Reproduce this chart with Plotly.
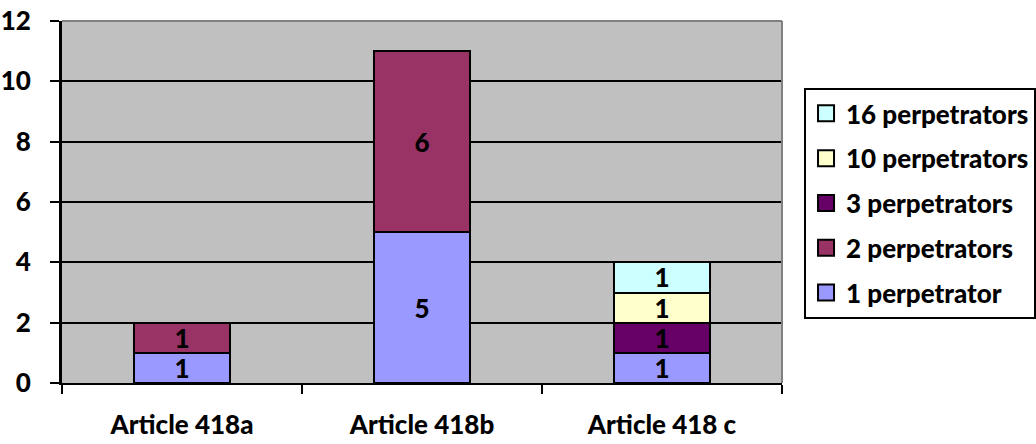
import plotly.graph_objects as go

# Cases per article, split by number of perpetrators
categories = ["Article 418a", "Article 418b", "Article 418 c"]
series_names = ["1 perpetrator", "2 perpetrators", "3 perpetrators",
                "10 perpetrators", "16 perpetrators"]
one_perp = [1, 5, 1]
two_perp = [1, 6, None]
three_perp = [None, None, 1]
ten_perp = [None, None, 1]
sixteen_perp = [None, None, 1]
y_ticks = [0, 2, 4, 6, 8, 10, 12]

series_values = [one_perp, two_perp, three_perp, ten_perp, sixteen_perp]
colors = ["#9999FF", "#993366", "#660066", "#FFFFCC", "#CCFFFF"]

FONT = "Lato"
SIZE = 26
WEIGHT = 900
fig = go.Figure()
n = len(series_names)
for i, (name, vals, col) in enumerate(zip(series_names, series_values, colors)):
    fig.add_trace(go.Bar(
        x=categories, y=vals, name=name, legendgroup=f"g{i}",
        showlegend=False,
        marker=dict(color=col, line=dict(color="black", width=2)),
        text=[("" if v is None else str(v)) for v in vals],
        textposition="inside", insidetextanchor="middle", textangle=0,
        textfont=dict(family=FONT, size=SIZE, color="black", weight=WEIGHT),
        constraintext="none", cliponaxis=False,
    ))
    # legend entry with a larger square swatch
    fig.add_trace(go.Scatter(
        x=[None], y=[None], mode="markers", name=name, legendgroup=f"g{i}",
        legendrank=n - i, showlegend=True, hoverinfo="skip",
        marker=dict(symbol="square", size=16, color=col,
                    line=dict(color="black", width=2)),
    ))

fig.update_layout(
    width=1036, height=444,
    barmode="stack", bargap=0.596,
    paper_bgcolor="white", plot_bgcolor="#C0C0C0",
    margin=dict(l=62, r=254, t=21, b=61, autoexpand=False),
    font=dict(family=FONT, size=SIZE, color="black", weight=WEIGHT),
    uniformtext=dict(minsize=SIZE, mode="show"),
    legend=dict(
        x=1.0306, xanchor="left", y=0.815, yanchor="top",
        traceorder="grouped", tracegroupgap=8, itemwidth=30,
        bordercolor="black", borderwidth=2, bgcolor="white",
        font=dict(family=FONT, size=SIZE, color="black", weight=WEIGHT),
    ),
    xaxis=dict(
        type="category", showline=True, linecolor="black", linewidth=2,
        ticks="outside", tickson="boundaries", ticklen=9, tickwidth=2,
        tickcolor="black", showgrid=False, ticklabelstandoff=18,
        automargin=False,
    ),
    yaxis=dict(
        range=[0, 12], tickvals=y_ticks, showline=True, linecolor="black",
        linewidth=3, ticks="outside", ticklen=9, tickwidth=2, tickcolor="black",
        showgrid=True, gridcolor="black", gridwidth=2, zeroline=False,
        ticklabelstandoff=14, automargin=False,
    ),
    showlegend=True,
)

# grey frame along the top and right of the plot area
fig.add_shape(type="line", xref="paper", yref="paper", x0=0, x1=1, y0=1, y1=1,
              line=dict(color="#808080", width=2))
fig.add_shape(type="line", xref="paper", yref="paper", x0=1, x1=1, y0=0, y1=1,
              line=dict(color="#808080", width=2))

fig.write_html("out.html")
